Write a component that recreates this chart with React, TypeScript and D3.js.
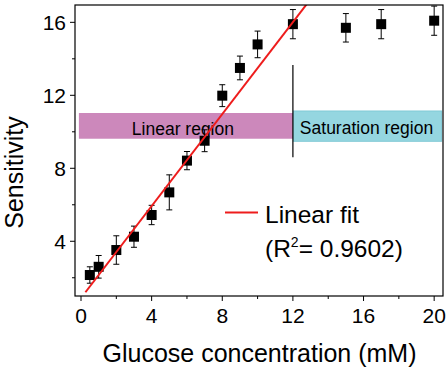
import * as d3 from 'd3';

const concentration = [0.5, 1, 2, 3, 4, 5, 6, 7, 8, 9, 10, 12, 15, 17, 20];
const sensitivity = [2.15, 2.6, 3.52, 4.25, 5.44, 6.68, 8.42, 9.51, 11.98, 13.5, 14.79, 15.9, 15.7, 15.9, 16.09];
const errors = [0.45, 0.62, 0.78, 0.58, 0.53, 0.96, 0.5, 0.6, 0.6, 0.65, 0.73, 0.8, 0.78, 0.8, 0.8];

const xTicks = [0, 4, 8, 12, 16, 20];
const xMinor = [2, 6, 10, 14, 18];
const yTicks = [4, 8, 12, 16];
const yMinor = [2, 6, 10, 14];

// linear fit  y = slope * x + intercept
const fitSlope = 1.26;
const fitIntercept = 0.89;
const fitRange = [0.25, 13];

const linearBand = { x0: -0.12, x1: 12, y0: 9.62, y1: 11.03 };
const saturationBand = { x0: 12.03, x1: 20.42, y0: 9.48, y1: 11.14 };
const dividerX = 12;
const dividerY = [8.6, 13.66];

const W = 446;
const H = 370;
const frame = { left: 75, right: 443, top: 5, bottom: 296 };
const font = '"Liberation Sans", Arial, sans-serif';

export default function App() {
  const x = d3.scaleLinear().domain([-0.34, 20.5]).range([frame.left, frame.right]);
  const y = d3.scaleLinear().domain([1, 16.95]).range([frame.bottom, frame.top]);

  const fitLine = d3
    .line<number>()
    .x((d) => x(d))
    .y((d) => y(fitSlope * d + fitIntercept));

  const sq = 10;
  const cap = 3;

  return (
    <svg width={W} height={H} style={{ position: 'absolute', left: 0, top: 0 }} fontFamily={font}>
      <defs>
        <clipPath id="plot">
          <rect x={frame.left} y={frame.top} width={frame.right - frame.left} height={frame.bottom - frame.top} />
        </clipPath>
      </defs>

      {/* region bands */}
      <rect
        x={x(linearBand.x0)}
        y={y(linearBand.y1)}
        width={x(linearBand.x1) - x(linearBand.x0)}
        height={y(linearBand.y0) - y(linearBand.y1)}
        fill="#cc88bb"
      />
      <rect
        x={x(saturationBand.x0)}
        y={y(saturationBand.y1)}
        width={x(saturationBand.x1) - x(saturationBand.x0)}
        height={y(saturationBand.y0) - y(saturationBand.y1)}
        fill="#95d6e0"
        stroke="#80c9d6"
        strokeWidth={1}
      />
      <text
        x={(x(linearBand.x0) + x(linearBand.x1)) / 2 - 3}
        y={(y(linearBand.y0) + y(linearBand.y1)) / 2 + 9}
        fontSize={17.5}
        textAnchor="middle"
      >
        Linear region
      </text>
      <text
        x={(x(saturationBand.x0) + x(saturationBand.x1)) / 2 - 1}
        y={(y(saturationBand.y0) + y(saturationBand.y1)) / 2 + 8}
        fontSize={17.5}
        textAnchor="middle"
      >
        Saturation region
      </text>
      <line x1={x(dividerX)} x2={x(dividerX)} y1={y(dividerY[1])} y2={y(dividerY[0])} stroke="#000" strokeWidth={1.2} />

      {/* data */}
      {concentration.map((c, i) => {
        const cx = x(c);
        const cy = y(sensitivity[i]);
        const top = y(sensitivity[i] + errors[i]);
        const bot = y(sensitivity[i] - errors[i]);
        return (
          <g key={i}>
            <line x1={cx} x2={cx} y1={top} y2={bot} stroke="#000" strokeWidth={1} />
            <line x1={cx - cap} x2={cx + cap} y1={top} y2={top} stroke="#000" strokeWidth={1} />
            <line x1={cx - cap} x2={cx + cap} y1={bot} y2={bot} stroke="#000" strokeWidth={1} />
            <rect x={cx - sq / 2} y={cy - sq / 2} width={sq} height={sq} fill="#000" />
          </g>
        );
      })}

      <path d={fitLine(fitRange) ?? ''} stroke="#ee1c1c" strokeWidth={2} fill="none" clipPath="url(#plot)" />

      {/* frame */}
      <rect
        x={frame.left}
        y={frame.top}
        width={frame.right - frame.left}
        height={frame.bottom - frame.top}
        fill="none"
        stroke="#000"
        strokeWidth={1.2}
      />

      {/* x axis */}
      {xTicks.map((t) => (
        <g key={`x${t}`}>
          <line x1={x(t)} x2={x(t)} y1={frame.bottom} y2={frame.bottom + 5} stroke="#000" />
          <text x={x(t)} y={frame.bottom + 27} fontSize={21} textAnchor="middle">
            {t}
          </text>
        </g>
      ))}
      {xMinor.map((t) => (
        <line key={`xm${t}`} x1={x(t)} x2={x(t)} y1={frame.bottom} y2={frame.bottom + 3} stroke="#000" />
      ))}

      {/* y axis */}
      {yTicks.map((t) => (
        <g key={`y${t}`}>
          <line x1={frame.left - 5} x2={frame.left} y1={y(t)} y2={y(t)} stroke="#000" />
          <text x={frame.left - 9} y={y(t) + 7.5} fontSize={21} textAnchor="end">
            {t}
          </text>
        </g>
      ))}
      {yMinor.map((t) => (
        <line key={`ym${t}`} x1={frame.left - 3} x2={frame.left} y1={y(t)} y2={y(t)} stroke="#000" />
      ))}

      {/* legend */}
      <line x1={225} x2={258} y1={212.5} y2={212.5} stroke="#ee1c1c" strokeWidth={2} />
      <text x={265} y={222.5} fontSize={24.5}>
        Linear fit
      </text>
      <text x={265} y={257} fontSize={24.5}>
        (R
        <tspan fontSize={14} dy={-10}>
          2
        </tspan>
        <tspan dy={10}>= 0.9602)</tspan>
      </text>

      {/* axis titles */}
      <text x={259.5} y={361.5} fontSize={25} textAnchor="middle">
        Glucose concentration (mM)
      </text>
      <text transform="translate(23,172.5) rotate(-90)" fontSize={25} textAnchor="middle">
        Sensitivity
      </text>
    </svg>
  );
}
